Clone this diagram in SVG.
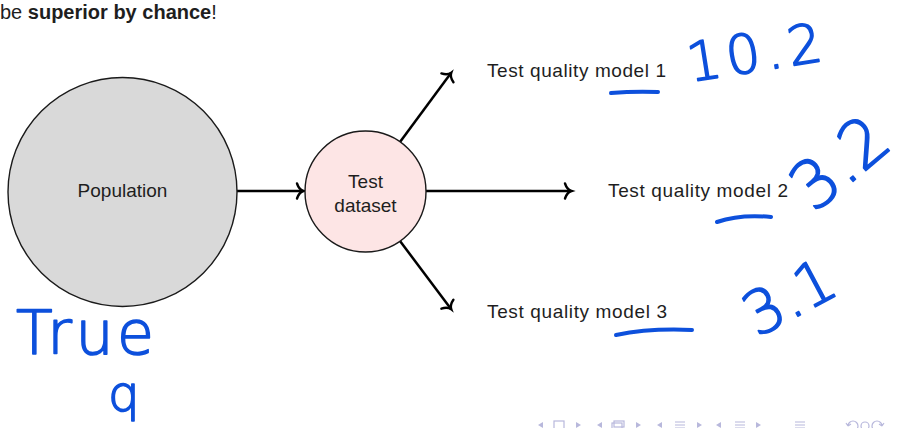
<svg xmlns="http://www.w3.org/2000/svg" width="924" height="428" viewBox="0 0 924 428">
<style>
.t{font-family:"Liberation Sans",Arial,sans-serif;font-size:19px;fill:#1e1e1e}
.c{stroke:#1a1a1a;stroke-width:1.4}
.e{stroke:#000;stroke-width:2.5;fill:none;marker-end:url(#to)}
.hw{font-family:"DejaVu Sans","Liberation Sans",sans-serif;font-weight:300;fill:#0d50dc;stroke:#0d50dc;stroke-width:1.6;stroke-linejoin:round}
.ul{stroke:#0d50dc;stroke-width:4;fill:none;stroke-linecap:round}
.nav{fill:none;stroke:#b8b8dc;stroke-width:1.2}
.navf{fill:#b8b8dc}
</style>
<defs>
<marker id="to" markerUnits="userSpaceOnUse" viewBox="-8 -9 10 18" markerWidth="10" markerHeight="18" refX="0" refY="0" orient="auto" overflow="visible">
<path d="M-6,-7.5 C-4.5,-3 -1.5,-0.6 0.5,0 C-1.5,0.6 -4.5,3 -6,7.5" fill="none" stroke="#000" stroke-width="2.4" stroke-linecap="round"/>
</marker>
</defs>
<rect width="924" height="428" fill="#fff"/>
<text class="t" x="0" y="19" style="font-size:20px">be <tspan font-weight="bold">superior by chance</tspan>!</text>
<g id="connectors">
<line class="e" x1="237" y1="191" x2="303" y2="191"/>
<line class="e" x1="426" y1="191" x2="571" y2="191"/>
<line class="e" x1="400" y1="142" x2="451" y2="73"/>
<line class="e" x1="400" y1="241" x2="451" y2="309"/>
</g>
<g id="population">
<circle class="c" cx="122.5" cy="192" r="114.5" fill="#d9d9d9"/>
<text class="t" x="122.5" y="197" text-anchor="middle">Population</text>
</g>
<g id="test-dataset">
<circle class="c" cx="365.5" cy="191.5" r="60.5" fill="#fde5e5"/>
<text class="t" x="365.5" y="188" text-anchor="middle">Test</text>
<text class="t" x="365.5" y="212" text-anchor="middle">dataset</text>
</g>
<g id="model1"><text class="t" x="487" y="77" textLength="179">Test quality model 1</text></g>
<g id="model2"><text class="t" x="608" y="197" textLength="180">Test quality model 2</text></g>
<g id="model3"><text class="t" x="487" y="318" textLength="180">Test quality model 3</text></g>
<g id="handwriting">
<path class="ul" d="M611,93 Q635,91 658,92"/>
<path class="ul" d="M717,222 Q740,214 771,217"/>
<path class="ul" d="M616,335 Q650,328 692,330"/>
<text class="hw" x="0" y="0" font-size="54" textLength="136" transform="translate(690,82) rotate(-9)">10.2</text>
<text class="hw" x="0" y="0" font-size="66" transform="translate(814,214) rotate(-40)">3.2</text>
<text class="hw" x="0" y="0" font-size="60" transform="translate(757,338) rotate(-28)">3.1</text>
<text class="hw" x="16" y="354" font-size="60" textLength="138">True</text>
<text class="hw" x="108" y="411" font-size="50">q</text>
</g>
<g id="nav">
<path class="navf" d="M538,425 l5,-3 v6 z"/>
<rect class="nav" x="554" y="421" width="10" height="8"/>
<path class="navf" d="M581,425 l-5,-3 v6 z"/>
<path class="navf" d="M597,425 l5,-3 v6 z"/>
<rect class="nav" x="612" y="423" width="10" height="6"/>
<rect class="nav" x="614" y="421" width="10" height="6"/>
<path class="navf" d="M641,425 l-5,-3 v6 z"/>
<path class="navf" d="M657,425 l5,-3 v6 z"/>
<path class="nav" d="M675,422 h10 M675,425 h10 M675,428 h10"/>
<path class="navf" d="M702,425 l-5,-3 v6 z"/>
<path class="navf" d="M716,425 l5,-3 v6 z"/>
<path class="nav" d="M735,422 h10 M735,425 h10 M735,428 h10"/>
<path class="navf" d="M761,425 l-5,-3 v6 z"/>
<path class="nav" d="M795,422 h10 M795,425 h10 M795,428 h10"/>
<path class="nav" d="M848,426 a5,5 0 1 1 5,5 M848,426 l-2,-3 M848,426 l3,-2"/>
<circle class="nav" cx="865" cy="426" r="4"/>
<path class="nav" d="M882,426 a5,5 0 1 0 -5,5 M882,426 l2,-3 M882,426 l-3,-2"/>
</g>
</svg>
